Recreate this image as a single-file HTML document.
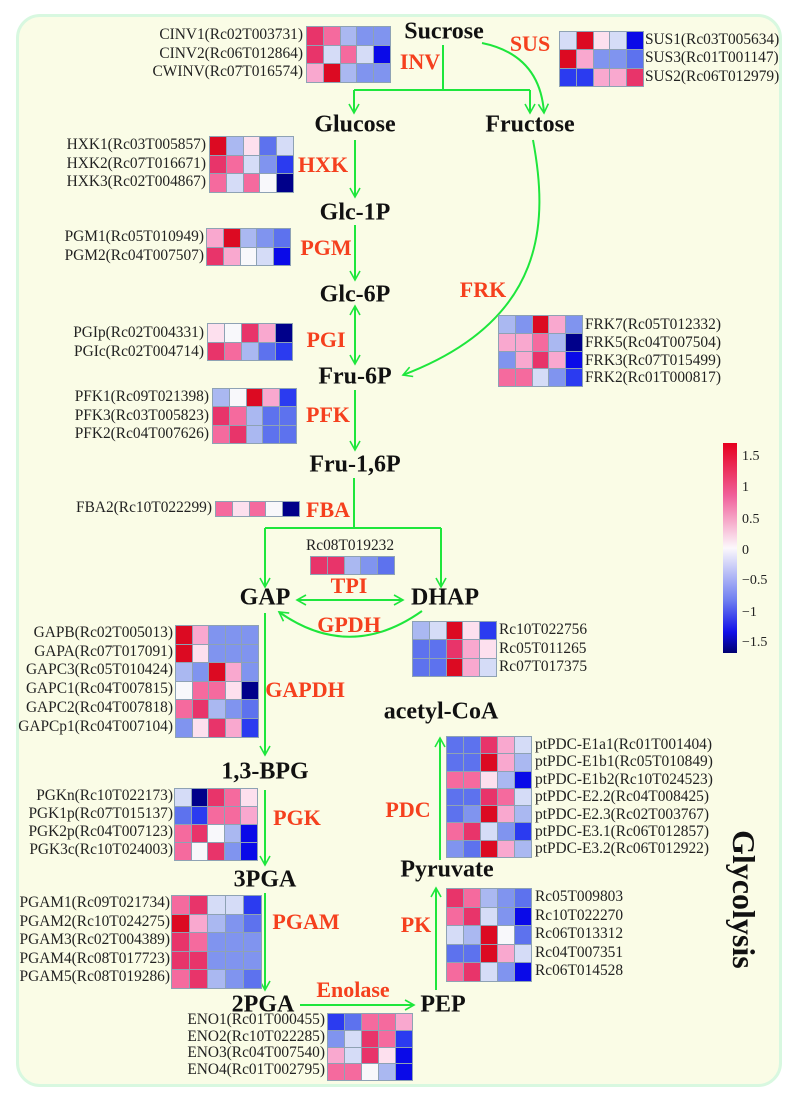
<!DOCTYPE html>
<html><head><meta charset="utf-8"><style>
body{margin:0;width:794px;height:1103px;background:#fff;position:relative;overflow:hidden;font-family:"Liberation Serif",serif}
.panel{position:absolute;left:16px;top:14px;width:766px;height:1073px;background:#fafce6;border:3px solid #d8f8e0;border-radius:24px;box-sizing:border-box}
.mt{position:absolute;transform:translate(-50%,-50%);font-weight:bold;font-size:24px;color:#111;white-space:nowrap}
.en{position:absolute;transform:translate(-50%,-50%);font-weight:bold;font-size:22px;color:#f5401e;white-space:nowrap}
.hm{position:absolute;display:grid;gap:1px;padding:1px;background:#8ea2b4}
.hm i{display:block}
.lb{position:absolute;font-size:15.4px;color:#222;white-space:nowrap}
.rt{text-align:right}
i.A{background:#dc0a22}i.a{background:#e8346a}i.p{background:#f56a9e}i.q{background:#f9a8cf}i.s{background:#fde0ee}i.w{background:#f8f8fb}i.l{background:#d5dcf7}i.m{background:#aab8f1}i.n{background:#8094ef}i.o{background:#5d72ee}i.b{background:#2b3bf0}i.B{background:#0a0ae8}i.D{background:#00008a}
svg{position:absolute;left:0;top:0}
</style></head><body>
<div class="panel"></div>

<svg width="794" height="1103">
<defs>
<marker id="ah" markerWidth="12" markerHeight="12" refX="10" refY="6" orient="auto-start-reverse" markerUnits="userSpaceOnUse"><path d="M1,1 L10,6 L1,11 M10,6 L4,6" fill="none" stroke="#1ee63c" stroke-width="1.6"/></marker>
<linearGradient id="lg" x1="0" y1="0" x2="0" y2="1"><stop offset="0" stop-color="#e6001e"/><stop offset="0.25" stop-color="#f0609a"/><stop offset="0.5" stop-color="#fcf8fc"/><stop offset="0.75" stop-color="#6e7ef0"/><stop offset="0.9" stop-color="#1010e8"/><stop offset="1" stop-color="#000070"/></linearGradient>
</defs>
<g fill="none" stroke="#1ee63c" stroke-width="2">
<path d="M443,45 V90 M354,90 H530"/>
<path d="M354,90 V113" marker-end="url(#ah)"/>
<path d="M530,90 V113" marker-end="url(#ah)"/>
<path d="M482,43 Q540,55 544,113" marker-end="url(#ah)"/>
<path d="M355,140 V197" marker-end="url(#ah)"/>
<path d="M355,225 V280" marker-end="url(#ah)"/>
<path d="M355,306 V364" marker-start="url(#ah)" marker-end="url(#ah)"/>
<path d="M355,390 V450" marker-end="url(#ah)"/>
<path d="M533,140 C548,220 548,320 403,375" marker-end="url(#ah)"/>
<path d="M354,478 V528 M265,528 H441"/>
<path d="M265,528 V587" marker-end="url(#ah)"/>
<path d="M441,528 V587" marker-end="url(#ah)"/>
<path d="M297,600 H403" marker-start="url(#ah)" marker-end="url(#ah)"/>
<path d="M422,611 Q350,662 279,612" marker-end="url(#ah)"/>
<path d="M265,613 V755" marker-end="url(#ah)"/>
<path d="M265,790 V865" marker-end="url(#ah)"/>
<path d="M265,893 V990" marker-end="url(#ah)"/>
<path d="M300,1005 H414" marker-end="url(#ah)"/>
<path d="M436,990 V888" marker-end="url(#ah)"/>
<path d="M440,860 V738" marker-end="url(#ah)"/>
</g>
<rect x="723" y="443" width="14" height="210" fill="url(#lg)"/>
<g font-family="Liberation Serif, serif" font-size="14" fill="#222">
<text x="742" y="460">1.5</text><text x="742" y="491">1</text><text x="742" y="523">0.5</text><text x="742" y="554">0</text><text x="742" y="584">−0.5</text><text x="742" y="616">−1</text><text x="742" y="646">−1.5</text>
</g>
<text transform="translate(733,830) rotate(90)" font-family="Liberation Serif, serif" font-weight="bold" font-size="32" fill="#111">Glycolysis</text>
</svg>

<div class="mt" style="left:444px;top:32px">Sucrose</div>
<div class="mt" style="left:355px;top:125px">Glucose</div>
<div class="mt" style="left:530px;top:125px">Fructose</div>
<div class="mt" style="left:355px;top:213px">Glc-1P</div>
<div class="mt" style="left:355px;top:295px">Glc-6P</div>
<div class="mt" style="left:355px;top:377px">Fru-6P</div>
<div class="mt" style="left:355px;top:465px">Fru-1,6P</div>
<div class="mt" style="left:265px;top:598px">GAP</div>
<div class="mt" style="left:445px;top:598px">DHAP</div>
<div class="mt" style="left:265px;top:772px">1,3-BPG</div>
<div class="mt" style="left:265px;top:880px">3PGA</div>
<div class="mt" style="left:263px;top:1005px">2PGA</div>
<div class="mt" style="left:443px;top:1005px">PEP</div>
<div class="mt" style="left:447px;top:870px">Pyruvate</div>
<div class="mt" style="left:441px;top:712px">acetyl-CoA</div>

<div class="en" style="left:420px;top:62px">INV</div>
<div class="en" style="left:530px;top:44px">SUS</div>
<div class="en" style="left:323px;top:165px">HXK</div>
<div class="en" style="left:326px;top:248px">PGM</div>
<div class="en" style="left:326px;top:340px">PGI</div>
<div class="en" style="left:328px;top:415px">PFK</div>
<div class="en" style="left:328px;top:510px">FBA</div>
<div class="en" style="left:483px;top:290px">FRK</div>
<div class="en" style="left:349px;top:586px">TPI</div>
<div class="en" style="left:349px;top:625px">GPDH</div>
<div class="en" style="left:305px;top:690px">GAPDH</div>
<div class="en" style="left:297px;top:818px">PGK</div>
<div class="en" style="left:306px;top:922px">PGAM</div>
<div class="en" style="left:353px;top:990px">Enolase</div>
<div class="en" style="left:416px;top:925px">PK</div>
<div class="en" style="left:408px;top:810px">PDC</div>

<div class="lb rt" style="right:491px;top:26px;line-height:18.7px">CINV1(Rc02T003731)<br>CINV2(Rc06T012864)<br>CWINV(Rc07T016574)</div>
<div class="hm" style="left:306px;top:26px;grid-template-columns:repeat(5,15.8px);grid-auto-rows:17.5px"><i class="a"></i><i class="p"></i><i class="m"></i><i class="n"></i><i class="n"></i><i class="a"></i><i class="l"></i><i class="p"></i><i class="l"></i><i class="B"></i><i class="q"></i><i class="A"></i><i class="m"></i><i class="n"></i><i class="n"></i></div>
<div class="hm" style="left:559px;top:31px;grid-template-columns:repeat(5,15.8px);grid-auto-rows:17.3px"><i class="l"></i><i class="A"></i><i class="s"></i><i class="l"></i><i class="B"></i><i class="A"></i><i class="q"></i><i class="n"></i><i class="n"></i><i class="o"></i><i class="b"></i><i class="b"></i><i class="q"></i><i class="q"></i><i class="a"></i></div>
<div class="lb" style="left:645px;top:31px;line-height:18.3px">SUS1(Rc03T005634)<br>SUS3(Rc01T001147)<br>SUS2(Rc06T012979)</div>
<div class="lb rt" style="right:588px;top:136px;line-height:18.7px">HXK1(Rc03T005857)<br>HXK2(Rc07T016671)<br>HXK3(Rc02T004867)</div>
<div class="hm" style="left:209px;top:136px;grid-template-columns:repeat(5,15.8px);grid-auto-rows:17.5px"><i class="A"></i><i class="m"></i><i class="s"></i><i class="o"></i><i class="l"></i><i class="a"></i><i class="p"></i><i class="l"></i><i class="n"></i><i class="b"></i><i class="p"></i><i class="l"></i><i class="p"></i><i class="w"></i><i class="D"></i></div>
<div class="lb rt" style="right:590px;top:228px;line-height:18.5px">PGM1(Rc05T010949)<br>PGM2(Rc04T007507)</div>
<div class="hm" style="left:206px;top:228px;grid-template-columns:repeat(5,15.8px);grid-auto-rows:17.5px"><i class="q"></i><i class="A"></i><i class="m"></i><i class="n"></i><i class="o"></i><i class="a"></i><i class="q"></i><i class="w"></i><i class="l"></i><i class="B"></i></div>
<div class="lb rt" style="right:590px;top:323px;line-height:19px">PGIp(Rc02T004331)<br>PGIc(Rc02T004714)</div>
<div class="hm" style="left:207px;top:323px;grid-template-columns:repeat(5,16px);grid-auto-rows:17.5px"><i class="s"></i><i class="w"></i><i class="a"></i><i class="q"></i><i class="D"></i><i class="a"></i><i class="p"></i><i class="m"></i><i class="o"></i><i class="b"></i></div>
<div class="lb rt" style="right:585px;top:388px;line-height:18.5px">PFK1(Rc09T021398)<br>PFK3(Rc03T005823)<br>PFK2(Rc04T007626)</div>
<div class="hm" style="left:212px;top:388px;grid-template-columns:repeat(5,15.8px);grid-auto-rows:17.3px"><i class="m"></i><i class="w"></i><i class="A"></i><i class="q"></i><i class="b"></i><i class="a"></i><i class="p"></i><i class="m"></i><i class="o"></i><i class="o"></i><i class="p"></i><i class="a"></i><i class="m"></i><i class="o"></i><i class="o"></i></div>
<div class="lb rt" style="right:582px;top:499px;line-height:17px">FBA2(Rc10T022299)</div>
<div class="hm" style="left:215px;top:501px;grid-template-columns:repeat(5,15.8px);grid-auto-rows:14px"><i class="p"></i><i class="s"></i><i class="p"></i><i class="w"></i><i class="D"></i></div>
<div class="hm" style="left:498px;top:315px;grid-template-columns:repeat(5,15.8px);grid-auto-rows:16.8px"><i class="m"></i><i class="n"></i><i class="A"></i><i class="q"></i><i class="n"></i><i class="q"></i><i class="q"></i><i class="p"></i><i class="m"></i><i class="D"></i><i class="n"></i><i class="q"></i><i class="a"></i><i class="q"></i><i class="B"></i><i class="p"></i><i class="p"></i><i class="l"></i><i class="n"></i><i class="b"></i></div>
<div class="lb" style="left:585px;top:316px;line-height:17.8px">FRK7(Rc05T012332)<br>FRK5(Rc04T007504)<br>FRK3(Rc07T015499)<br>FRK2(Rc01T000817)</div>
<div class="lb" style="left:306px;top:538px;line-height:16px">Rc08T019232</div>
<div class="hm" style="left:310px;top:556px;grid-template-columns:repeat(5,15.8px);grid-auto-rows:17px"><i class="a"></i><i class="a"></i><i class="m"></i><i class="n"></i><i class="o"></i></div>
<div class="hm" style="left:412px;top:621px;grid-template-columns:repeat(5,15.8px);grid-auto-rows:17.3px"><i class="m"></i><i class="l"></i><i class="A"></i><i class="s"></i><i class="b"></i><i class="o"></i><i class="o"></i><i class="a"></i><i class="q"></i><i class="s"></i><i class="o"></i><i class="o"></i><i class="A"></i><i class="q"></i><i class="l"></i></div>
<div class="lb" style="left:499px;top:621px;line-height:18.5px">Rc10T022756<br>Rc05T011265<br>Rc07T017375</div>
<div class="lb rt" style="right:621px;top:624px;line-height:18.7px">GAPB(Rc02T005013)<br>GAPA(Rc07T017091)<br>GAPC3(Rc05T010424)<br>GAPC1(Rc04T007815)<br>GAPC2(Rc04T007818)<br>GAPCp1(Rc04T007104)</div>
<div class="hm" style="left:175px;top:625px;grid-template-columns:repeat(5,15.6px);grid-auto-rows:17.6px"><i class="A"></i><i class="q"></i><i class="n"></i><i class="n"></i><i class="n"></i><i class="A"></i><i class="s"></i><i class="n"></i><i class="n"></i><i class="n"></i><i class="m"></i><i class="n"></i><i class="A"></i><i class="q"></i><i class="n"></i><i class="w"></i><i class="p"></i><i class="p"></i><i class="s"></i><i class="D"></i><i class="p"></i><i class="a"></i><i class="m"></i><i class="n"></i><i class="o"></i><i class="n"></i><i class="s"></i><i class="a"></i><i class="q"></i><i class="b"></i></div>
<div class="lb rt" style="right:621px;top:787px;line-height:18px">PGKn(Rc10T022173)<br>PGK1p(Rc07T015137)<br>PGK2p(Rc04T007123)<br>PGK3c(Rc10T024003)</div>
<div class="hm" style="left:174px;top:788px;grid-template-columns:repeat(5,15.6px);grid-auto-rows:17px"><i class="l"></i><i class="D"></i><i class="a"></i><i class="p"></i><i class="s"></i><i class="o"></i><i class="b"></i><i class="p"></i><i class="p"></i><i class="q"></i><i class="p"></i><i class="a"></i><i class="w"></i><i class="m"></i><i class="B"></i><i class="p"></i><i class="w"></i><i class="a"></i><i class="n"></i><i class="B"></i></div>
<div class="lb rt" style="right:624px;top:894px;line-height:18.5px">PGAM1(Rc09T021734)<br>PGAM2(Rc10T024275)<br>PGAM3(Rc02T004389)<br>PGAM4(Rc08T017723)<br>PGAM5(Rc08T019286)</div>
<div class="hm" style="left:171px;top:895px;grid-template-columns:repeat(5,17px);grid-auto-rows:17.5px"><i class="p"></i><i class="a"></i><i class="l"></i><i class="l"></i><i class="b"></i><i class="A"></i><i class="q"></i><i class="m"></i><i class="n"></i><i class="o"></i><i class="a"></i><i class="p"></i><i class="n"></i><i class="n"></i><i class="n"></i><i class="a"></i><i class="a"></i><i class="n"></i><i class="n"></i><i class="n"></i><i class="p"></i><i class="a"></i><i class="m"></i><i class="n"></i><i class="o"></i></div>
<div class="lb rt" style="right:469px;top:1012px;line-height:16.7px">ENO1(Rc01T000455)<br>ENO2(Rc10T022285)<br>ENO3(Rc04T007540)<br>ENO4(Rc01T002795)</div>
<div class="hm" style="left:327px;top:1013px;grid-template-columns:repeat(5,16px);grid-auto-rows:15.8px"><i class="b"></i><i class="o"></i><i class="p"></i><i class="p"></i><i class="q"></i><i class="n"></i><i class="l"></i><i class="a"></i><i class="p"></i><i class="b"></i><i class="q"></i><i class="l"></i><i class="a"></i><i class="s"></i><i class="B"></i><i class="p"></i><i class="p"></i><i class="w"></i><i class="m"></i><i class="B"></i></div>
<div class="hm" style="left:446px;top:888px;grid-template-columns:repeat(5,16px);grid-auto-rows:17.6px"><i class="a"></i><i class="p"></i><i class="m"></i><i class="n"></i><i class="o"></i><i class="p"></i><i class="a"></i><i class="l"></i><i class="n"></i><i class="B"></i><i class="l"></i><i class="m"></i><i class="A"></i><i class="w"></i><i class="o"></i><i class="o"></i><i class="o"></i><i class="A"></i><i class="q"></i><i class="l"></i><i class="p"></i><i class="a"></i><i class="l"></i><i class="n"></i><i class="B"></i></div>
<div class="lb" style="left:535px;top:888px;line-height:18.5px">Rc05T009803<br>Rc10T022270<br>Rc06T013312<br>Rc04T007351<br>Rc06T014528</div>
<div class="hm" style="left:446px;top:736px;grid-template-columns:repeat(5,16px);grid-auto-rows:16.3px"><i class="o"></i><i class="o"></i><i class="a"></i><i class="q"></i><i class="l"></i><i class="o"></i><i class="o"></i><i class="A"></i><i class="q"></i><i class="m"></i><i class="p"></i><i class="p"></i><i class="s"></i><i class="m"></i><i class="B"></i><i class="o"></i><i class="o"></i><i class="a"></i><i class="p"></i><i class="l"></i><i class="o"></i><i class="n"></i><i class="A"></i><i class="q"></i><i class="m"></i><i class="p"></i><i class="a"></i><i class="l"></i><i class="n"></i><i class="b"></i><i class="n"></i><i class="o"></i><i class="A"></i><i class="q"></i><i class="m"></i></div>
<div class="lb" style="left:535px;top:736px;line-height:17.4px">ptPDC-E1a1(Rc01T001404)<br>ptPDC-E1b1(Rc05T010849)<br>ptPDC-E1b2(Rc10T024523)<br>ptPDC-E2.2(Rc04T008425)<br>ptPDC-E2.3(Rc02T003767)<br>ptPDC-E3.1(Rc06T012857)<br>ptPDC-E3.2(Rc06T012922)</div>
</body></html>
